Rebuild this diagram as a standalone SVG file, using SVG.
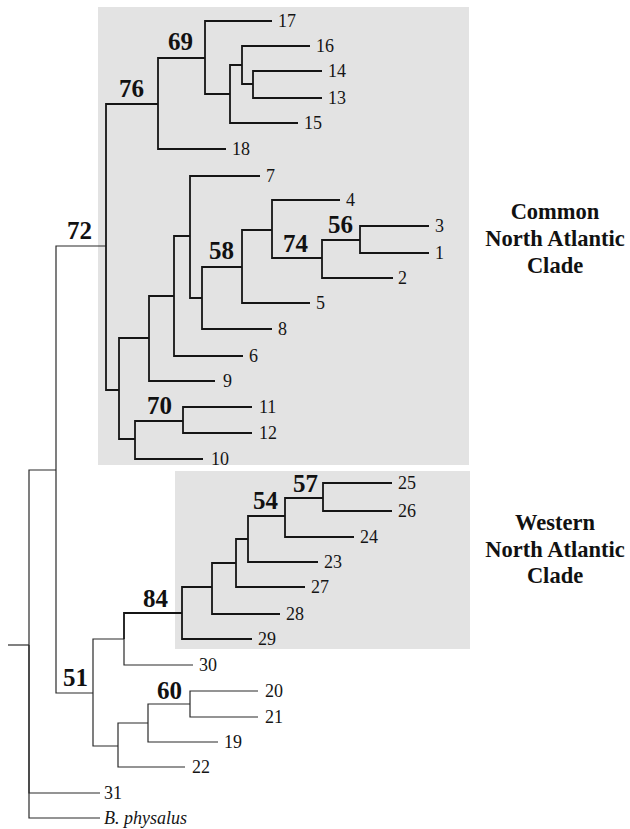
<svg xmlns="http://www.w3.org/2000/svg" width="630" height="829" viewBox="0 0 630 829">
<style>
.bg{fill:#e3e3e3}
.e{fill:none;stroke:#151515;stroke-width:1.8}
.t{fill:none;stroke:#2a2a2a;stroke-width:1.2}
.lf{font-family:"Liberation Serif",serif;font-size:18px;fill:#151515}
.bs{font-family:"Liberation Serif",serif;font-size:25px;font-weight:bold;fill:#111}
.cl{font-family:"Liberation Serif",serif;font-size:22.5px;font-weight:bold;fill:#111;text-anchor:middle}
.it{font-style:italic}
</style>
<rect class="bg" x="98" y="7" width="371" height="458"/>
<rect class="bg" x="175" y="471" width="295" height="178"/>
<g id="connectors">
<path class="t" d="M8 645H29"/>
<path class="t" d="M29 645V470H56"/>
<path class="t" d="M29 645V793H100"/>
<path class="t" d="M29 645V818H100"/>
<path class="t" d="M56 470V246H106"/>
<path class="t" d="M56 470V693H93"/>
<path class="e" d="M106 246V104H158"/>
<path class="e" d="M106 246V390H119"/>
<path class="e" d="M158 104V58H205"/>
<path class="e" d="M158 104V149H226"/>
<path class="e" d="M205 58V21H272"/>
<path class="e" d="M205 58V94H230"/>
<path class="e" d="M230 94V65H242"/>
<path class="e" d="M230 94V123H298"/>
<path class="e" d="M242 65V46H310"/>
<path class="e" d="M242 65V84H253"/>
<path class="e" d="M253 84V71H322"/>
<path class="e" d="M253 84V98H322"/>
<path class="e" d="M119 390V338H149"/>
<path class="e" d="M119 390V439H135"/>
<path class="e" d="M149 338V296H174"/>
<path class="e" d="M149 338V381H215"/>
<path class="e" d="M174 296V236H190"/>
<path class="e" d="M174 296V356H243"/>
<path class="e" d="M190 236V176H260"/>
<path class="e" d="M190 236V298H202"/>
<path class="e" d="M202 298V267H242"/>
<path class="e" d="M202 298V329H272"/>
<path class="e" d="M242 267V230H272"/>
<path class="e" d="M242 267V303H310"/>
<path class="e" d="M272 230V200H340"/>
<path class="e" d="M272 230V258H322"/>
<path class="e" d="M322 258V240H360"/>
<path class="e" d="M322 258V278H393"/>
<path class="e" d="M360 240V226H429"/>
<path class="e" d="M360 240V253H429"/>
<path class="e" d="M135 439V421H183"/>
<path class="e" d="M135 439V459H203"/>
<path class="e" d="M183 421V407H252"/>
<path class="e" d="M183 421V433H252"/>
<path class="t" d="M93 693V639H124"/>
<path class="t" d="M93 693V746H118"/>
<path class="e" d="M124 639V613H182"/>
<path class="t" d="M124 639V665H193"/>
<path class="e" d="M182 613V587H212"/>
<path class="e" d="M182 613V639H252"/>
<path class="e" d="M212 587V563H236"/>
<path class="e" d="M212 587V614H280"/>
<path class="e" d="M236 563V539H248"/>
<path class="e" d="M236 563V587H305"/>
<path class="e" d="M248 539V516H285"/>
<path class="e" d="M248 539V562H318"/>
<path class="e" d="M285 516V498H323"/>
<path class="e" d="M285 516V537H354"/>
<path class="e" d="M323 498V483H392"/>
<path class="e" d="M323 498V511H392"/>
<path class="t" d="M118 746V723H148"/>
<path class="t" d="M118 746V767H185"/>
<path class="t" d="M148 723V704H190"/>
<path class="t" d="M148 723V742H218"/>
<path class="t" d="M190 704V691H258"/>
<path class="t" d="M190 704V717H258"/>
</g>
<g id="n72"><text class="bs" x="67" y="239">72</text></g>
<g id="n76"><text class="bs" x="119" y="97">76</text></g>
<g id="n69"><text class="bs" x="168" y="50">69</text></g>
<g id="n58"><text class="bs" x="209" y="259">58</text></g>
<g id="n74"><text class="bs" x="283" y="252">74</text></g>
<g id="n56"><text class="bs" x="328" y="233">56</text></g>
<g id="n70"><text class="bs" x="147" y="414">70</text></g>
<g id="n84"><text class="bs" x="143" y="607">84</text></g>
<g id="n54"><text class="bs" x="253" y="509">54</text></g>
<g id="n57"><text class="bs" x="293" y="492">57</text></g>
<g id="n51"><text class="bs" x="63" y="686">51</text></g>
<g id="n60"><text class="bs" x="157" y="699">60</text></g>
<g id="leaf17"><text class="lf" x="278" y="27">17</text></g>
<g id="leaf16"><text class="lf" x="316" y="52">16</text></g>
<g id="leaf14"><text class="lf" x="328" y="77">14</text></g>
<g id="leaf13"><text class="lf" x="328" y="104">13</text></g>
<g id="leaf15"><text class="lf" x="304" y="129">15</text></g>
<g id="leaf18"><text class="lf" x="232" y="155">18</text></g>
<g id="leaf7"><text class="lf" x="266" y="182">7</text></g>
<g id="leaf4"><text class="lf" x="346" y="206">4</text></g>
<g id="leaf3"><text class="lf" x="435" y="232">3</text></g>
<g id="leaf1"><text class="lf" x="435" y="259">1</text></g>
<g id="leaf2"><text class="lf" x="398" y="284">2</text></g>
<g id="leaf5"><text class="lf" x="316" y="309">5</text></g>
<g id="leaf8"><text class="lf" x="278" y="335">8</text></g>
<g id="leaf6"><text class="lf" x="249" y="362">6</text></g>
<g id="leaf9"><text class="lf" x="223" y="387">9</text></g>
<g id="leaf11"><text class="lf" x="259" y="413">11</text></g>
<g id="leaf12"><text class="lf" x="259" y="439">12</text></g>
<g id="leaf10"><text class="lf" x="211" y="465">10</text></g>
<g id="leaf25"><text class="lf" x="398" y="489">25</text></g>
<g id="leaf26"><text class="lf" x="398" y="517">26</text></g>
<g id="leaf24"><text class="lf" x="360" y="543">24</text></g>
<g id="leaf23"><text class="lf" x="324" y="568">23</text></g>
<g id="leaf27"><text class="lf" x="311" y="593">27</text></g>
<g id="leaf28"><text class="lf" x="286" y="620">28</text></g>
<g id="leaf29"><text class="lf" x="258" y="645">29</text></g>
<g id="leaf30"><text class="lf" x="199" y="671">30</text></g>
<g id="leaf20"><text class="lf" x="265" y="697">20</text></g>
<g id="leaf21"><text class="lf" x="265" y="723">21</text></g>
<g id="leaf19"><text class="lf" x="224" y="748">19</text></g>
<g id="leaf22"><text class="lf" x="192" y="773">22</text></g>
<g id="leaf31"><text class="lf" x="104" y="799">31</text></g>
<g id="leafBphysalus"><text class="lf it" x="104" y="824">B. physalus</text></g>
<g id="clade-common">
<text class="cl" x="555" y="219">Common</text>
<text class="cl" x="555" y="246">North Atlantic</text>
<text class="cl" x="555" y="273">Clade</text>
</g>
<g id="clade-western">
<text class="cl" x="555" y="530">Western</text>
<text class="cl" x="555" y="557">North Atlantic</text>
<text class="cl" x="555" y="583">Clade</text>
</g>
</svg>
